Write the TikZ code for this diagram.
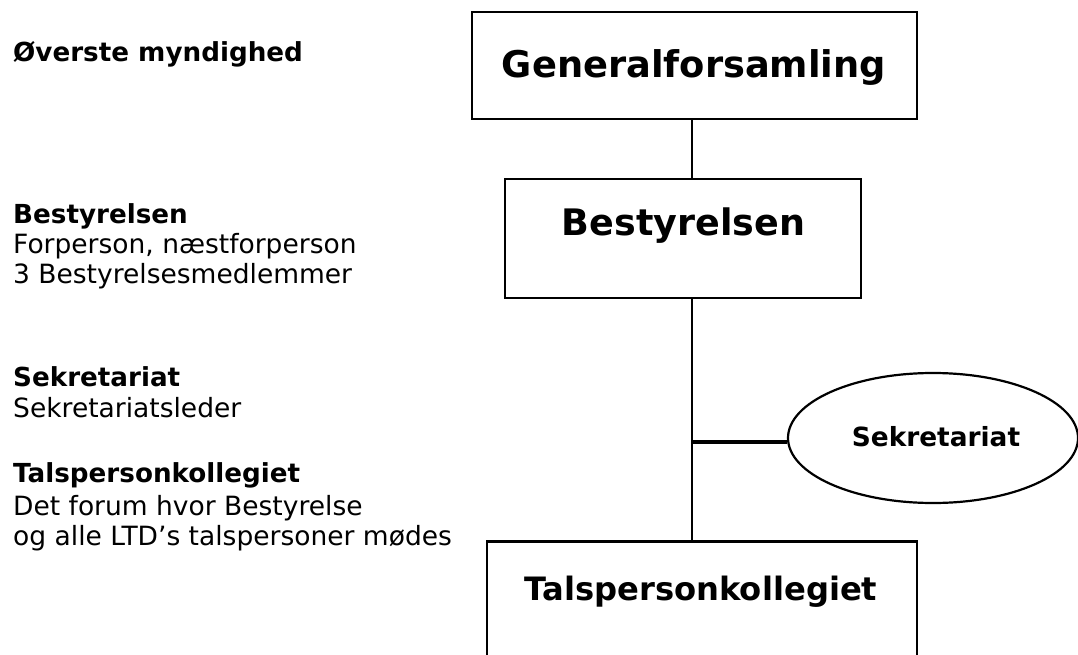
\documentclass[tikz,border=0pt]{standalone}
\usepackage{fontspec}
\setmainfont{DejaVu Sans}
\usetikzlibrary{shapes.geometric}
\begin{document}
\begin{tikzpicture}[x=1pt,y=-1pt,
  boxst/.style={draw=black,line width=2.5pt,rectangle,inner sep=0pt},
  conn/.style={draw=black,line width=2.2pt},
  sidebold/.style={anchor=base west,inner sep=0pt,font=\fontsize{26.2}{31}\selectfont\bfseries},
  sidetext/.style={anchor=base west,inner sep=0pt,font=\fontsize{26.5}{31}\selectfont},
  boxtext/.style={anchor=base,inner sep=0pt}]
\useasboundingbox (0,0) rectangle (1078,655);
\clip (0,0) rectangle (1078,655);
\coordinate (v) at (692,0);
% boxes
\node[boxst,minimum width=445,minimum height=107] (gen) at (694.5,65.5) {};
\node[boxtext,font=\fontsize{36.8}{44}\selectfont\bfseries] (gentext) at (694,78) {Generalforsamling};
\node[boxst,minimum width=356,minimum height=119] (best) at (683,238.5) {};
\node[boxtext,font=\fontsize{36.5}{42}\selectfont\bfseries] (besttext) at (683.5,235) {Bestyrelsen};
\node[boxst,minimum width=430,minimum height=200,anchor=north] (tals) at (702,540) {};
\node[boxtext,font=\fontsize{32.2}{38}\selectfont\bfseries] (talstext) at (701,600) {Talspersonkollegiet};
\node[draw=black,line width=2.2pt,ellipse,minimum width=290,minimum height=130,inner sep=0pt] (sek) at (933,438) {};
\node[boxtext,font=\fontsize{26.4}{31}\selectfont\bfseries] (sektext) at (936,446) {Sekretariat};
% connectors
\draw[conn] (gen.south -| v) -- (best.north -| v);
\draw[conn] (best.south -| v) -- (tals.north -| v);
\coordinate (j) at (692,442);
\draw[draw=black,line width=3.3pt] (j) -- (sek.west |- j);
% side labels
\node[sidebold] (l1) at (13,62) {Øverste myndighed};
\node[sidebold] (l2) at (13,223) {Bestyrelsen};
\node[sidetext] (l3) at (13,253) {Forperson, næstforperson};
\node[sidetext] (l4) at (13,283) {3 Bestyrelsesmedlemmer};
\node[sidebold] (l5) at (13,386) {Sekretariat};
\node[sidetext] (l6) at (13,417) {Sekretariatsleder};
\node[sidebold] (l7) at (13,482) {Talspersonkollegiet};
\node[sidetext] (l8) at (13,515) {Det forum hvor Bestyrelse};
\node[sidetext] (l9) at (13,545) {og alle LTD’s talspersoner mødes};
\end{tikzpicture}
\end{document}
